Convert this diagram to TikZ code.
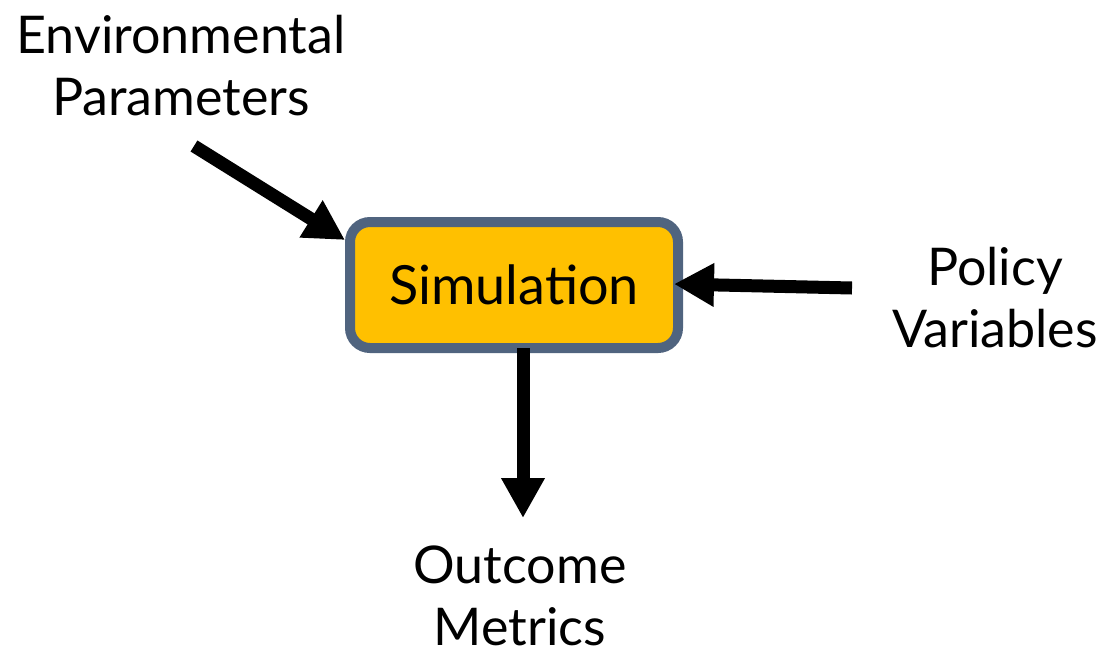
\documentclass[tikz,border=0pt]{standalone}
\usepackage{fontspec}
\setmainfont{Lato}
\usetikzlibrary{arrows.meta}
\definecolor{boxfill}{HTML}{FFC000}
\definecolor{boxline}{HTML}{50647F}
\tikzset{
  lbl/.style={font=\fontsize{52}{62}\selectfont, align=center, inner sep=0pt},
  simbox/.style={draw=boxline, fill=boxfill, line width=10pt, rounded corners=20pt,
     minimum width=328pt, minimum height=126pt, inner sep=0pt, outer sep=0pt,
     font=\fontsize{54}{64}\selectfont},
  arr/.style={line width=13pt, -{Triangle[length=40pt,width=41pt]}}
}
\begin{document}
\begin{tikzpicture}[x=1pt,y=-1pt]
\useasboundingbox (0,0) rectangle (1108,651);
\node[simbox] (box) at (514,285) {Simulation};
\node[lbl] (env) at (181,66) {Environmental\\Parameters};
\node[lbl] (pol) at (995,298) {Policy\\Variables};
\node[lbl] (out) at (520,596) {Outcome\\Metrics};
\coordinate (envtail) at (194,146);
\coordinate (poltail) at (852,288);
\coordinate (outtip) at (523,518);
\draw[arr] (envtail) -- ([xshift=-5pt,yshift=-18pt]box.north west);
\draw[arr] (poltail) -- ([xshift=-4pt,yshift=1pt]box.east);
\draw[arr] ([xshift=9pt]box.south) -- (outtip);
\end{tikzpicture}
\end{document}
